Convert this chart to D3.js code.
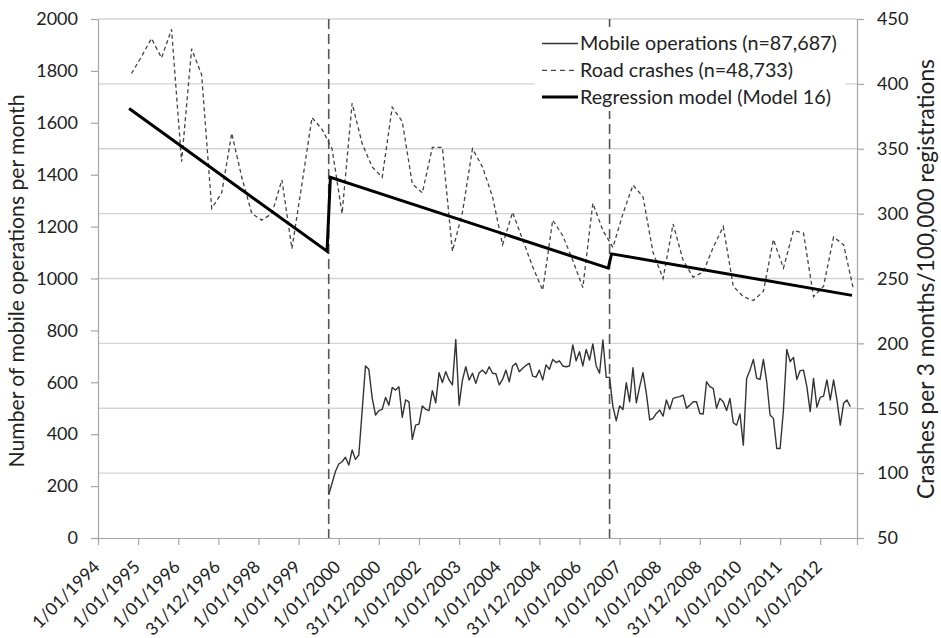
<!DOCTYPE html>
<html>
<head>
<meta charset="utf-8">
<script src="https://cdn.jsdelivr.net/npm/d3@7/dist/d3.min.js"></script>
<style>
  body { margin: 0; background: #fff; }
  text { font-family: Lato, "Open Sans", sans-serif; fill: #222; }
</style>
</head>
<body>
<script>
// months counted from the start of the category axis (1/01/1994 = 0)
var xTickLabels = ["1/01/1994", "1/01/1995", "1/01/1996", "31/12/1996", "1/01/1998", "1/01/1999",
  "1/01/2000", "31/12/2000", "1/01/2002", "1/01/2003", "1/01/2004", "31/12/2004", "1/01/2006",
  "1/01/2007", "1/01/2008", "31/12/2008", "1/01/2010", "1/01/2011", "1/01/2012"];

// mobile operations per month, starting month 69
var mobileStart = 69;
var mobileOps = [166, 211, 256, 285, 294, 311, 281, 339, 303, 320,
  490, 663, 650, 540, 474, 491, 496, 542, 512, 580,
  570, 583, 465, 532, 525, 380, 435, 439, 509, 496,
  491, 568, 521, 637, 599, 641, 609, 590, 765, 512,
  609, 660, 609, 635, 596, 637, 647, 633, 660, 635,
  633, 590, 611, 647, 602, 663, 673, 641, 654, 665,
  673, 624, 620, 647, 609, 667, 650, 688, 676, 683,
  663, 660, 663, 744, 683, 718, 663, 727, 686, 748,
  663, 635, 763, 619, 619, 506, 452, 509, 495, 598,
  525, 656, 521, 583, 637, 557, 455, 461, 480, 493,
  470, 532, 496, 538, 542, 545, 551, 500, 512, 525,
  525, 480, 478, 602, 583, 577, 500, 538, 525, 491,
  538, 444, 435, 478, 358, 615, 647, 688, 615, 611,
  688, 602, 474, 461, 345, 345, 493, 727, 680, 696,
  611, 645, 647, 583, 487, 615, 504, 542, 547, 609,
  532, 609, 532, 435, 519, 532, 506];

// road crashes per 3 months / 100,000 registrations, quarterly from month 10
var crashStart = 10;
var crashes = [408, 421, 435, 420, 442, 340, 427, 407, 304, 316,
  362, 328, 300, 295, 300, 326, 273, 323, 374, 365,
  350, 300, 385, 354, 336, 328, 382, 371, 323, 316,
  351, 351, 271, 301, 350, 336, 313, 276, 301, 280,
  259, 241, 295, 283, 264, 243, 308, 287, 274, 300,
  322, 313, 270, 250, 292, 264, 251, 255, 274, 290,
  244, 236, 233, 240, 280, 258, 287, 285, 236, 244,
  282, 276, 241];

// regression model (Model 16), right axis
var regMonths = [9.3, 68.5, 69.5, 152.6, 153.6, 225.5];
var regValues = [381, 271, 328, 258, 269, 237];

var interventions = [69, 153];

var legendLabels = ["Mobile operations (n=87,687)", "Road crashes (n=48,733)", "Regression model (Model 16)"];

var w = 941, h = 638;
var svg = d3.select('body').append('svg').attr('width', w).attr('height', h);

var x = d3.scaleLinear().domain([0, 227]).range([98, 857]);
var yL = d3.scaleLinear().domain([0, 2000]).range([538, 19]);
var yR = d3.scaleLinear().domain([50, 450]).range([538, 19]);

// scale a text's font so that it spans the given width (Calibri is narrower than Lato)
function fitSize(node, fs, target) {
  return fs * target / node.getComputedTextLength();
}

// gridlines (secondary axis)
svg.append('g').selectAll('line')
  .data(d3.range(100, 451, 50))
  .enter().append('line')
  .attr('x1', x(0)).attr('x2', x(227))
  .attr('y1', function(d){ return yR(d); }).attr('y2', function(d){ return yR(d); })
  .attr('stroke', '#d4d4d4').attr('stroke-width', 1.3);

// left axis
var gl = svg.append('g').attr('transform', 'translate(' + x(0) + ',0)')
  .call(d3.axisLeft(yL).tickValues(d3.range(0, 2001, 200)).tickFormat(d3.format('d'))
    .tickSize(7).tickPadding(13).tickSizeOuter(0));
// right axis
var gr = svg.append('g').attr('transform', 'translate(' + x(227) + ',0)')
  .call(d3.axisRight(yR).tickValues(d3.range(50, 451, 50)).tickSize(7).tickPadding(13).tickSizeOuter(0));
// bottom axis
var gb = svg.append('g').attr('transform', 'translate(0,' + yL(0) + ')')
  .call(d3.axisBottom(x).tickValues(d3.range(0, 217, 12).concat([227])).tickSize(7).tickSizeOuter(0).tickFormat(''));

[gl, gr, gb].forEach(function(g){
  g.select('.domain').attr('stroke', '#a6a6a6').attr('stroke-width', 1.2);
  g.selectAll('.tick line').attr('stroke', '#a6a6a6').attr('stroke-width', 1.2);
  g.selectAll('.tick text').attr('font-family', 'Lato, sans-serif').attr('font-size', 18).attr('fill', '#222');
});

// rotated category labels
var xl = svg.append('g').selectAll('text')
  .data(xTickLabels)
  .enter().append('text')
  .attr('text-anchor', 'end')
  .attr('font-size', 17)
  .text(function(d){ return d; });
var xfs = fitSize(xl.node(), 17, 87);
xl.attr('font-size', xfs)
  .attr('transform', function(d, i){ return 'translate(' + (x(i * 12) + 3) + ',568) rotate(-45)'; });

// intervention lines
svg.append('g').selectAll('line')
  .data(interventions)
  .enter().append('line')
  .attr('x1', function(d){ return x(d); }).attr('x2', function(d){ return x(d); })
  .attr('y1', yL(2000)).attr('y2', yL(0))
  .attr('stroke', '#555').attr('stroke-width', 1.6).attr('stroke-dasharray', '10,5');

// road crashes
var crashLine = d3.line()
  .x(function(d, i){ return x(crashStart + i * 3); })
  .y(function(d){ return yR(d); });
svg.append('path').datum(crashes)
  .attr('d', crashLine).attr('fill', 'none')
  .attr('stroke', '#444').attr('stroke-width', 1.3).attr('stroke-dasharray', '4,3');

// mobile operations
var mobileLine = d3.line()
  .x(function(d, i){ return x(mobileStart + i); })
  .y(function(d){ return yL(d); });
svg.append('path').datum(mobileOps)
  .attr('d', mobileLine).attr('fill', 'none')
  .attr('stroke', '#333').attr('stroke-width', 1.4).attr('stroke-linejoin', 'round');

// regression
var regLine = d3.line()
  .x(function(d){ return x(d[0]); })
  .y(function(d){ return yR(d[1]); });
svg.append('path').datum(d3.zip(regMonths, regValues))
  .attr('d', regLine).attr('fill', 'none')
  .attr('stroke', '#000').attr('stroke-width', 3);

// legend
var lg = svg.append('g');
lg.append('rect').attr('x', 535).attr('y', 27).attr('width', 310).attr('height', 84).attr('fill', '#fff');
var styles = [
  {stroke: '#333', width: 1.4, dash: null},
  {stroke: '#444', width: 1.3, dash: '5,4'},
  {stroke: '#000', width: 3, dash: null}
];
var legendTexts = [];
legendLabels.forEach(function(t, i){
  var yy = 43.5 + i * 26.8;
  lg.append('line').attr('x1', 542).attr('x2', 578).attr('y1', yy).attr('y2', yy)
    .attr('stroke', styles[i].stroke).attr('stroke-width', styles[i].width)
    .attr('stroke-dasharray', styles[i].dash);
  legendTexts.push(lg.append('text').attr('x', 580).attr('y', yy).attr('dy', '0.35em')
    .attr('font-size', 17).text(t));
});
var lfs = fitSize(legendTexts[0].node(), 17, 257);
legendTexts.forEach(function(t){ t.attr('font-size', lfs); });

// axis titles
var tl = svg.append('text')
  .attr('transform', 'translate(24,281) rotate(-90)')
  .attr('text-anchor', 'middle').attr('font-size', 17)
  .text('Number of mobile operations per month');
tl.attr('font-size', fitSize(tl.node(), 17, 373));
var tr = svg.append('text')
  .attr('transform', 'translate(934,279) rotate(-90)')
  .attr('text-anchor', 'middle').attr('font-size', 17)
  .text('Crashes per 3 months/100,000 registrations');
tr.attr('font-size', fitSize(tr.node(), 17, 440));
</script>
</body>
</html>
